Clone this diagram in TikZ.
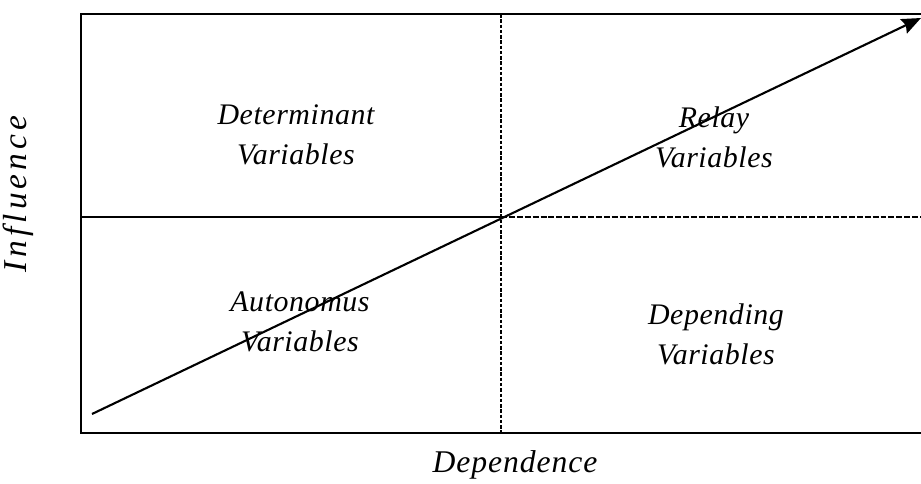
\documentclass[tikz,border=0pt]{standalone}
\usepackage{fontspec}
\setmainfont{Liberation Serif}[LetterSpace=2]
\usetikzlibrary{arrows.meta}

\begin{document}
\begin{tikzpicture}[x=0.02cm, y=-0.02cm, >={Stealth[length=11pt, width=9pt, inset=1.5pt]},
    quadlabel/.style={align=center, font=\fontsize{17}{22.8}\selectfont\itshape},
    axislabel/.style={font=\fontsize{17}{22.8}\selectfont\itshape},
    boxline/.style={line width=1.7pt},
    midsolid/.style={line width=1.2pt},
    middash/.style={line width=1.2pt, dash pattern=on 3.4pt off 1.1pt},
    middot/.style={line width=1.2pt, dash pattern=on 2pt off 1pt}]
    \useasboundingbox (0,0) rectangle (921,484);

    % Frame corners
    \coordinate (ne) at (925,14);
    \coordinate (nw) at (81,14);
    \coordinate (sw) at (81,433);
    \coordinate (se) at (925,433);
    \coordinate (top) at (501,14);
    \coordinate (bot) at (501,433);
    \coordinate (west) at (81,217);
    \coordinate (mid) at (501,217);
    \coordinate (east) at (925,217);

    % Frame (open on the right)
    \draw[boxline] (ne) -- (nw) -- (sw) -- (se);

    % Quadrant dividers
    \draw[midsolid] (west) -- (mid);
    \draw[middash] (mid) -- (east);
    \draw[middot] (top) -- (bot);

    % Quadrant labels
    \node[quadlabel] (determ) at (296,135) {Determinant\\Variables};
    \node[quadlabel] (relay) at (714,137) {Relay\\Variables};
    \node[quadlabel] (auton) at (300,322) {Autonomus\\Variables};
    \node[quadlabel] (depend) at (716,334) {Depending\\Variables};

    % Axis labels
    \node[axislabel, rotate=90] (influ) at (18,194) {\fontsize{19}{22.8}\selectfont\addfontfeature{LetterSpace=12}Influence};
    \node[axislabel] (dep) at (515,465) {\fontsize{18}{22.8}\selectfont\addfontfeature{LetterSpace=3}Dependence};

    % Diagonal arrow
    \coordinate (start) at (92,414);
    \coordinate (finish) at (921,18);
    \draw[->, line width=1.2pt] (start) -- (finish);
\end{tikzpicture}
\end{document}
